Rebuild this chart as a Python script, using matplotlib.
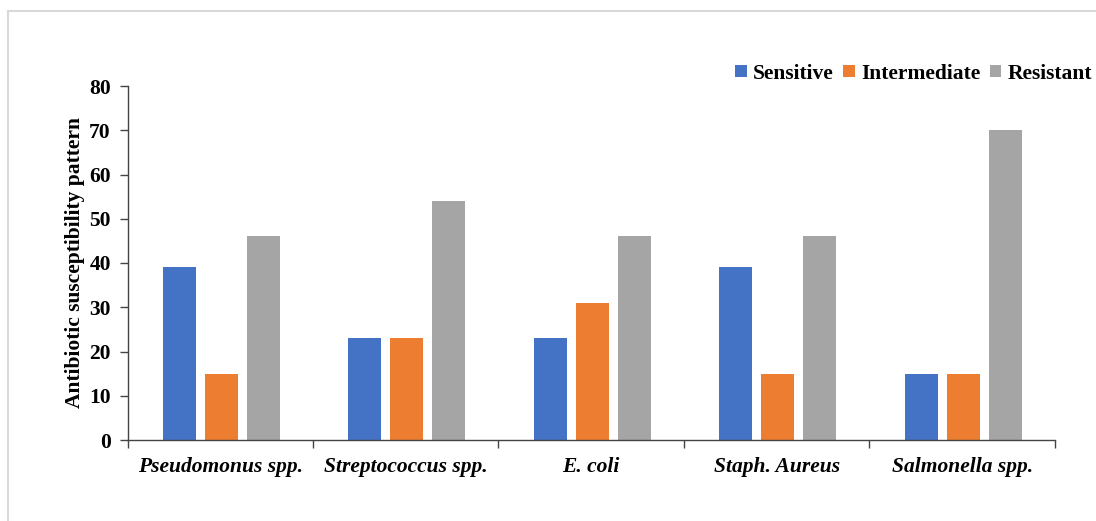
import matplotlib
matplotlib.use("Agg")
import matplotlib.pyplot as plt
from matplotlib.lines import Line2D
import numpy as np

categories = ["Pseudomonus spp.", "Streptococcus spp.", "E. coli", "Staph. Aureus", "Salmonella spp."]
sensitive = [39, 23, 23, 39, 15]
intermediate = [15, 23, 31, 15, 15]
resistant = [46, 54, 46, 46, 70]
series_names = ["Sensitive", "Intermediate", "Resistant"]
colors = ["#4472C4", "#ED7D31", "#A5A5A5"]
yticks = [0, 10, 20, 30, 40, 50, 60, 70, 80]

plt.rcParams['font.family'] = ['Liberation Serif', 'DejaVu Serif']

fig = plt.figure(figsize=(10.96, 5.21), dpi=100)
ax = fig.add_axes([127.5/1096, 81/521, (1055-127.5)/1096, (440-86)/521])

x = np.arange(len(categories))
w = 0.177
step = 0.226
for i, (vals, name, c) in enumerate(zip([sensitive, intermediate, resistant], series_names, colors)):
    ax.bar(x + (i - 1) * step + 0.005, vals, width=w, color=c, label=name, zorder=2)

ax.set_xlim(-0.5, len(categories) - 0.5)
ax.set_ylim(0, 80)
ax.set_yticks(yticks)
ax.set_yticklabels([str(v) for v in yticks], fontsize=15.5, fontweight='bold')
ax.set_xticks(x)
ax.set_xticklabels(categories, fontsize=15.5, fontweight='bold', fontstyle='italic')
ax.tick_params(axis='x', length=0, pad=12)
ax.tick_params(axis='y', length=6, width=1, direction='out', pad=6, color='#444444')
ax.set_xticks(np.arange(-0.5, len(categories), 1.0), minor=True)
ax.tick_params(axis='x', which='minor', length=6, width=1, direction='out', color='#444444')
for s in ['top', 'right']:
    ax.spines[s].set_visible(False)
for s in ['left', 'bottom']:
    ax.spines[s].set_color('#444444')
    ax.spines[s].set_linewidth(1)

ax.set_ylabel("Antibiotic susceptibility pattern", fontsize=15.5, fontweight='bold', labelpad=3)

leg = fig.legend(loc='upper right', bbox_to_anchor=(1101/1096, 1 - 55/521), ncol=3, frameon=False,
                 prop={'size': 15.5, 'weight': 'bold'}, handlelength=0.55, handleheight=0.55,
                 handletextpad=0.3, columnspacing=0.42, borderaxespad=0)

fig.add_artist(Line2D([8/1096, 8/1096], [0, 1 - 11/521], transform=fig.transFigure, color='#d9d9d9', lw=1.5))
fig.add_artist(Line2D([8/1096, 1], [1 - 11/521, 1 - 11/521], transform=fig.transFigure, color='#d9d9d9', lw=1.5))

fig.savefig("out.png", dpi=100)
